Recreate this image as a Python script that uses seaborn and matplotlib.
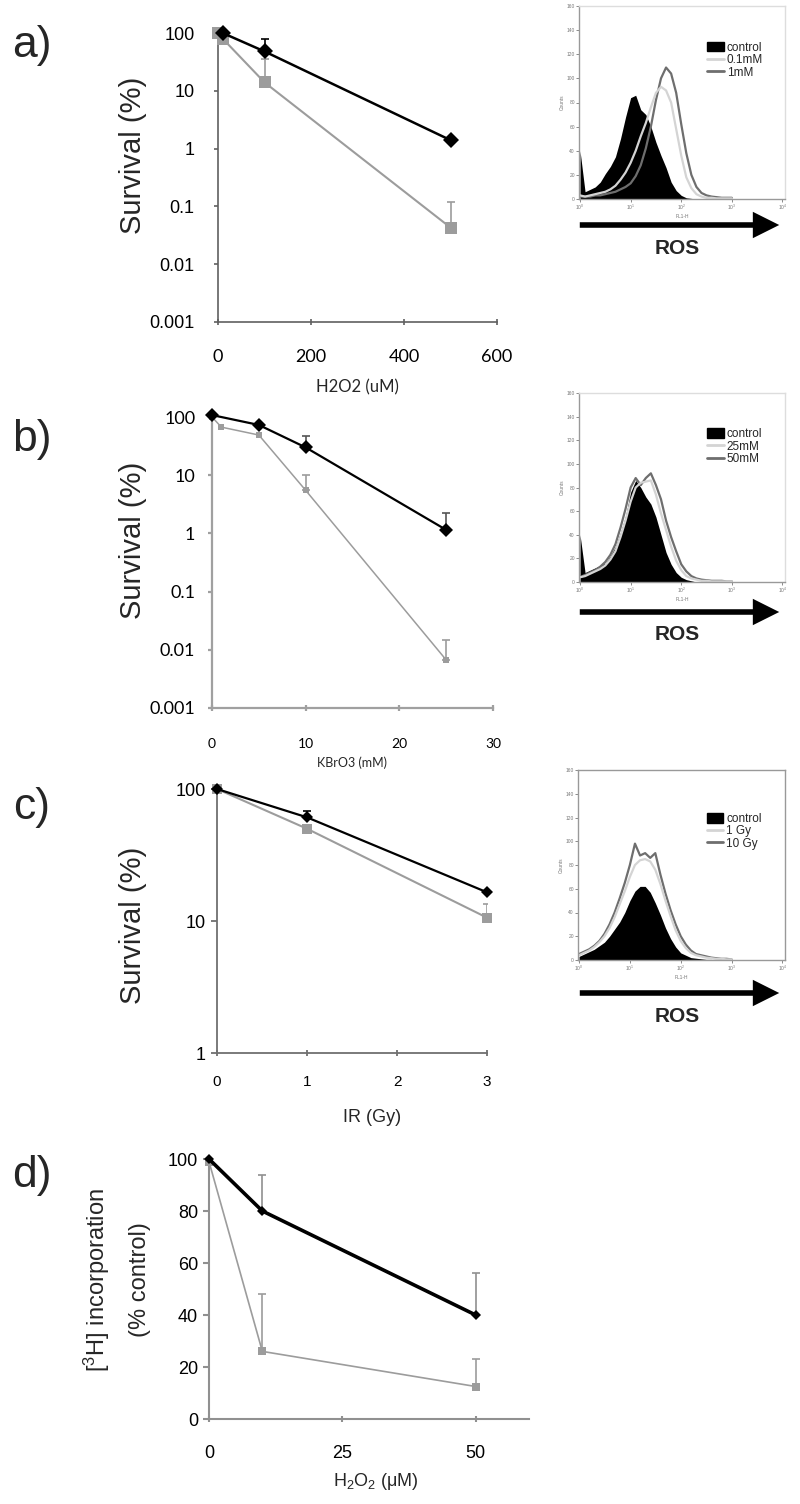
import numpy as np
import matplotlib
matplotlib.use("Agg")
import matplotlib.pyplot as plt
import seaborn as sns
from matplotlib.patches import Patch, FancyArrowPatch
from matplotlib.lines import Line2D
from matplotlib.ticker import NullLocator, FixedLocator

sns.set_style("ticks")
plt.rcParams['font.family'] = ['Liberation Sans', 'DejaVu Sans']
plt.rcParams['mathtext.fontset'] = 'custom'
plt.rcParams['mathtext.rm'] = 'Liberation Sans'
plt.rcParams['mathtext.it'] = 'Liberation Sans:italic'
plt.rcParams['mathtext.bf'] = 'Liberation Sans:bold'
CAL = ['Lato', 'DejaVu Sans']

# ---------------- data ----------------
nan = np.nan
# a) H2O2 survival
a_black_x = [10, 100, 500]
a_black_y = [100, 48, 1.4]
a_black_up = [nan, 78, nan]
a_gray_x = [0, 10, 100, 500]
a_gray_y = [100, 80, 14, 0.043]
a_gray_up = [nan, nan, 35, 0.117]
a_xticks = [0, 200, 400, 600]

# b) KBrO3 survival
b_black_x = [0, 5, 10, 25]
b_black_y = [108, 73, 30, 1.15]
b_black_up = [nan, nan, 47, 2.2]
b_gray_x = [0, 1, 5, 10, 25]
b_gray_y = [100, 67, 49, 5.5, 0.0067]
b_gray_up = [nan, nan, nan, 10, 0.015]
b_xticks = [0, 10, 20, 30]

surv_ticks = [0.001, 0.01, 0.1, 1, 10, 100]
surv_labels = ["0.001", "0.01", "0.1", "1", "10", "100"]

# c) IR survival
c_black_x = [0, 1, 3]
c_black_y = [100, 61, 16.5]
c_black_up = [nan, 68, nan]
c_gray_x = [0, 1, 3]
c_gray_y = [100, 50, 10.6]
c_gray_up = [nan, nan, 13.5]
c_xticks = [0, 1, 2, 3]
c_yticks = [1, 10, 100]

# d) [3H] incorporation
d_black_x = [0, 10, 50]
d_black_y = [100, 80, 40]
d_black_up = [nan, 94, 56]
d_gray_x = [0, 10, 50]
d_gray_y = [99, 26, 12.5]
d_gray_up = [nan, 48, 23]
d_xticks = [0, 25, 50]
d_yticks = [0, 20, 40, 60, 80, 100]

# ROS histograms (log10 fluorescence bin centres, counts)
ros_bins = [0.0, 0.1, 0.2, 0.3, 0.4, 0.5, 0.6, 0.7, 0.8, 0.9, 1.0,
            1.1, 1.2, 1.3, 1.4, 1.5, 1.6, 1.7, 1.8, 1.9, 2.0,
            2.1, 2.2, 2.3, 2.4, 2.5, 2.6, 2.7, 2.8, 2.9, 3.0]
a_ctrl = [40, 6, 8, 10, 14, 21, 27, 35, 50, 68, 84, 86, 74, 70, 60, 47, 36, 26, 14, 7, 3,
          1, 0.5, 0, 0, 0, 0, 0, 0, 0, 0]
a_low = [3, 2, 3, 4, 5, 6, 8, 11, 16, 22, 30, 40, 52, 63, 76, 88, 93, 90, 80, 58, 36,
         18, 9, 4, 2, 1, 1, 0.5, 0.5, 0.5, 0.5]
a_high = [2, 2, 2, 3, 3, 4, 5, 6, 8, 10, 13, 19, 28, 42, 60, 82, 100, 109, 104, 88, 62,
          38, 20, 10, 5, 3, 2, 1.5, 1, 1, 1]
a_legend = ["control", "0.1mM", "1mM"]

b_ctrl = [40, 8, 10, 12, 14, 16, 22, 30, 42, 56, 76, 86, 80, 72, 66, 55, 40, 25, 15, 8, 4,
          2, 1, 0, 0, 0, 0, 0, 0, 0, 0]
b_low = [4, 5, 7, 9, 11, 14, 19, 26, 38, 52, 68, 80, 84, 85, 86, 74, 58, 44, 30, 18, 10,
         5, 3, 2, 1, 1, 0.5, 0.5, 0.5, 0.5, 0.5]
b_high = [4, 6, 8, 10, 13, 17, 23, 32, 46, 62, 80, 88, 82, 88, 92, 82, 70, 52, 38, 26, 15,
          9, 5, 3, 2, 1.5, 1, 1, 1, 0.5, 0.5]
b_legend = ["control", "25mM", "50mM"]

c_ctrl = [3, 5, 7, 9, 12, 15, 20, 26, 32, 40, 50, 58, 62, 62, 57, 48, 38, 27, 18, 11, 6,
          4, 2, 1.5, 1, 0.5, 0.5, 0, 0, 0, 0]
c_low = [4, 6, 8, 11, 15, 20, 27, 36, 47, 58, 70, 80, 84, 85, 83, 76, 64, 50, 37, 25, 16,
         10, 6, 4, 3, 2, 1.5, 1, 1, 0.5, 0.5]
c_high = [5, 7, 9, 12, 16, 22, 30, 40, 52, 65, 80, 98, 88, 90, 86, 90, 72, 56, 42, 30, 20,
          13, 8, 5, 4, 3, 2, 1.5, 1, 1, 0.5]
c_legend = ["control", "1 Gy", "10 Gy"]

# ---------------- figure ----------------
W, H = 800, 1504
fig = plt.figure(figsize=(8, 15.04), dpi=100)


def box(l, t, r, b):
    return [l / W, 1 - b / H, (r - l) / W, (b - t) / H]


def fx(px):
    return px / W


def fy(py):
    return 1 - py / H


BLACK = '#000000'
GRAY = '#9c9c9c'


def curves(ax, bx, by, bup, gx, gy, gup, ms_b, ms_g, lw_b, lw_g, ecol_b='black'):
    sns.lineplot(x=gx, y=gy, ax=ax, color=GRAY, marker='s', markersize=ms_g,
                 markeredgewidth=0, linewidth=lw_g, sort=False, clip_on=False, zorder=3)
    sns.lineplot(x=bx, y=by, ax=ax, color=BLACK, marker='D', markersize=ms_b,
                 markeredgewidth=0, linewidth=lw_b, sort=False, clip_on=False, zorder=4)
    for xs, ys, ups, col in [(gx, gy, gup, GRAY), (bx, by, bup, ecol_b)]:
        xs = np.array(xs, float)
        ys = np.array(ys, float)
        ups = np.array(ups, float)
        m = ~np.isnan(ups)
        ax.errorbar(xs[m], ys[m], yerr=[np.zeros(m.sum()), ups[m] - ys[m]], fmt='none',
                    ecolor=col, elinewidth=1.2, capsize=3, capthick=1.2, zorder=2)


def style_main(ax, spine_col, lw):
    for s in ['top', 'right']:
        ax.spines[s].set_visible(False)
    for s in ['left', 'bottom']:
        ax.spines[s].set_color(spine_col)
        ax.spines[s].set_linewidth(lw)
    ax.tick_params(colors=spine_col, labelcolor='black', width=lw)


# ---- a) ----
ax = fig.add_axes(box(218, 33, 497, 322))
curves(ax, a_black_x, a_black_y, a_black_up, a_gray_x, a_gray_y, a_gray_up, 8.5, 9, 1.8, 1.5)
ax.set_yscale('log')
ax.set_xlim(0, 600)
ax.set_ylim(0.001, 100)
ax.yaxis.set_major_locator(FixedLocator(surv_ticks))
ax.yaxis.set_minor_locator(NullLocator())
ax.set_yticklabels(surv_labels)
ax.set_xticks(a_xticks)
style_main(ax, '#606060', 1.2)
ax.tick_params(axis='y', length=3, pad=14, labelsize=13)
ax.tick_params(axis='x', length=5, direction='inout', pad=17, labelsize=13)
for t in ax.get_xticklabels():
    t.set_family(CAL)
ax.set_xlabel("")
ax.set_ylabel("")
fig.text(fx(357), fy(387), "H2O2 (uM)", ha='center', va='center', fontsize=12, family=CAL)
fig.text(fx(133), fy(155), "Survival (%)", ha='center', va='center', rotation=90, fontsize=21)

# ---- b) ----
ax = fig.add_axes(box(212, 417, 493, 708))
curves(ax, b_black_x, b_black_y, b_black_up, b_gray_x, b_gray_y, b_gray_up, 7, 5, 1.6, 1.1,
       ecol_b='#555555')
ax.set_yscale('log')
ax.set_xlim(0, 30)
ax.set_ylim(0.001, 100)
ax.yaxis.set_major_locator(FixedLocator(surv_ticks))
ax.yaxis.set_minor_locator(NullLocator())
ax.set_yticklabels(surv_labels)
ax.set_xticks(b_xticks)
style_main(ax, '#a0a0a0', 1.6)
ax.tick_params(axis='y', length=3, pad=9, labelsize=13)
ax.tick_params(axis='x', length=5, direction='inout', pad=19, labelsize=10)
for t in ax.get_xticklabels() + ax.get_yticklabels():
    t.set_family(CAL)
ax.set_xlabel("")
ax.set_ylabel("")
fig.text(fx(352), fy(763), "KBrO3 (mM)", ha='center', va='center', fontsize=9, family=CAL)
fig.text(fx(133), fy(540), "Survival (%)", ha='center', va='center', rotation=90, fontsize=21)

# ---- c) ----
ax = fig.add_axes(box(217, 789, 487, 1053))
curves(ax, c_black_x, c_black_y, c_black_up, c_gray_x, c_gray_y, c_gray_up, 6, 6.5, 1.6, 1.5)
ax.set_yscale('log')
ax.set_xlim(0, 3)
ax.set_ylim(1, 100)
ax.yaxis.set_major_locator(FixedLocator(c_yticks))
ax.yaxis.set_minor_locator(NullLocator())
ax.set_yticklabels(["1", "10", "100"])
ax.set_xticks(c_xticks)
style_main(ax, '#707070', 1.3)
ax.tick_params(axis='y', length=4, pad=4, labelsize=13)
ax.tick_params(axis='x', length=5, direction='inout', pad=13, labelsize=11)
ax.set_xlabel("")
ax.set_ylabel("")
fig.text(fx(372), fy(1118), "IR (Gy)", ha='center', va='center', fontsize=13)
fig.text(fx(133), fy(925), "Survival (%)", ha='center', va='center', rotation=90, fontsize=21)

# ---- d) ----
ax = fig.add_axes(box(209, 1159, 529, 1419))
curves(ax, d_black_x, d_black_y, d_black_up, d_gray_x, d_gray_y, d_gray_up, 5, 5.5, 2.6, 1.2,
       ecol_b='#909090')
ax.set_xlim(0, 60)
ax.set_ylim(0, 100)
ax.set_xticks(d_xticks)
ax.set_yticks(d_yticks)
style_main(ax, '#909090', 1.5)
ax.tick_params(axis='y', length=4, pad=4, labelsize=13)
ax.tick_params(axis='x', length=5, direction='inout', pad=16, labelsize=13)
ax.set_xlabel("")
ax.set_ylabel("")
fig.text(fx(376), fy(1482), "H$_2$O$_2$ (μM)", ha='center', va='center', fontsize=13)
fig.text(fx(97), fy(1280), "[$^3$H] incorporation", ha='center', va='center', rotation=90,
         fontsize=17)
fig.text(fx(140), fy(1280), "(% control)", ha='center', va='center', rotation=90, fontsize=17)

# ---- ROS histograms ----
LIGHT = '#d4d4d4'
DARK = '#6e6e6e'


def ros_hist(rect, ctrl, low, high, labels, leg_top, arrow_y, frame_col_tr):
    ax = fig.add_axes(rect)
    kw = dict(x=ros_bins, binwidth=0.1, binrange=(-0.05, 3.05), element='poly', ax=ax)
    sns.histplot(weights=ctrl, fill=True, color='black', alpha=1, linewidth=0, **kw)
    sns.histplot(weights=high, fill=False, color=DARK, linewidth=1.6, **kw)
    sns.histplot(weights=low, fill=False, color=LIGHT, linewidth=1.6, **kw)
    ax.set_xlim(-0.02, 4.05)
    ax.set_ylim(0, 160)
    ax.set_xticks([0, 1, 2, 3, 4])
    ax.set_xticklabels([r"$10^0$", r"$10^1$", r"$10^2$", r"$10^3$", r"$10^4$"])
    ax.set_yticks([0, 20, 40, 60, 80, 100, 120, 140, 160])
    ax.set_yticklabels(["0", "20", "40", "60", "80", "100", "120", "140", "160"])
    ax.tick_params(labelsize=3.5, length=2, width=0.6, pad=1, colors='#777777',
                   labelcolor='#777777')
    ax.set_xlabel("FL1-H", fontsize=3.5, labelpad=1, color='#777777')
    ax.set_ylabel("Counts", fontsize=3.5, labelpad=1, color='#777777')
    for s in ['left', 'bottom']:
        ax.spines[s].set_color('#999999')
        ax.spines[s].set_linewidth(1.0)
    for s in ['top', 'right']:
        ax.spines[s].set_color(frame_col_tr)
        ax.spines[s].set_linewidth(1.0)
    handles = [Patch(facecolor='black', edgecolor='black'),
               Line2D([], [], color=LIGHT, lw=2),
               Line2D([], [], color=DARK, lw=2)]
    ax.legend(handles, labels, loc='upper left', bbox_to_anchor=(0.6, leg_top),
              frameon=False, fontsize=8.5, handlelength=1.4, handleheight=0.9,
              handletextpad=0.25, labelspacing=0.05, borderaxespad=0)
    fig.add_artist(FancyArrowPatch(
        posA=(fx(577), fy(arrow_y)), posB=(fx(782), fy(arrow_y)),
        transform=fig.transFigure,
        arrowstyle='simple,head_length=0.95,head_width=0.95,tail_width=0.2',
        mutation_scale=20, color='black', lw=0))
    fig.text(fx(677), fy(arrow_y + 23), "ROS", ha='center', va='center', fontsize=15,
             fontweight='bold')


ros_hist(box(579, 6, 785, 199), a_ctrl, a_low, a_high, a_legend, 0.84, 225, '#dddddd')
ros_hist(box(579, 393, 785, 582), b_ctrl, b_low, b_high, b_legend, 0.84, 612, '#dddddd')
ros_hist(box(578, 770, 785, 960), c_ctrl, c_low, c_high, c_legend, 0.80, 993, '#999999')

# ---- panel letters ----
for lab, y in [("a)", 45), ("b)", 440), ("c)", 808), ("d)", 1175)]:
    fig.text(fx(32), fy(y), lab, ha='center', va='center', fontsize=32)

fig.savefig("out.png", dpi=100)
